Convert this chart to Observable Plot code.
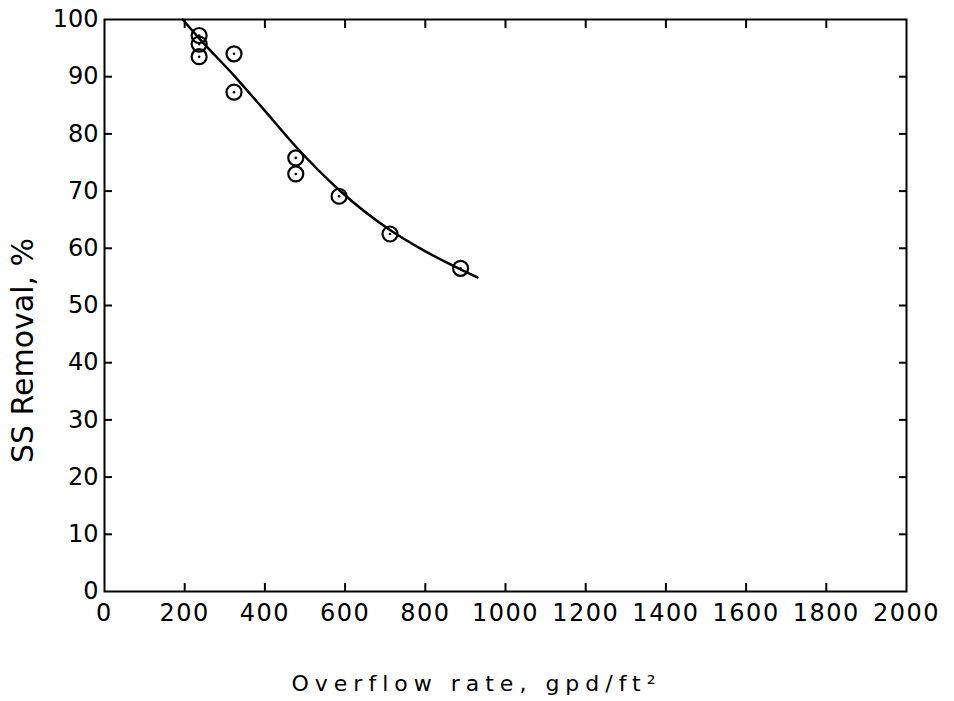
<!DOCTYPE html>
<html>
<head>
<meta charset="utf-8">
<script src="https://cdn.jsdelivr.net/npm/d3@7"></script>
<script src="https://cdn.jsdelivr.net/npm/@observablehq/plot@0.6"></script>
<style>
  html, body { margin: 0; padding: 0; background: #fff; }
  #chart svg { display: block; }
  g[aria-label="x-axis tick label"] text { letter-spacing: 1.5px; }
</style>
</head>
<body>
<div id="chart"></div>
<script>
// Measured data points (overflow rate, gpd/ft², vs SS removal, %)
const overflowRate = [236, 236, 236, 323, 323, 477, 477, 585, 712, 888];
const ssRemoval    = [97.2, 95.7, 93.5, 94.0, 87.3, 75.8, 73.0, 69.1, 62.5, 56.5];

// Hand-drawn fitted curve
const curveRate    = [195, 236, 323, 398, 477, 585, 712, 797, 930];
const curveRemoval = [100, 96.7, 90.2, 84.2, 77.8, 70.2, 63.2, 59.6, 54.9];

// Axis ticks and titles
const xTicks = [0, 200, 400, 600, 800, 1000, 1200, 1400, 1600, 1800, 2000];
const yTicks = [0, 10, 20, 30, 40, 50, 60, 70, 80, 90, 100];
const innerXTicks = [200, 400, 600, 800, 1000, 1200, 1400, 1600, 1800];
const innerYTicks = [10, 20, 30, 40, 50, 60, 70, 80, 90];
const xTitle = "Overflow rate, gpd/ft²";
const yTitle = "SS Removal, %";

const points = overflowRate.map((x, i) => ({x, y: ssRemoval[i]}));
const fit = curveRate.map((x, i) => ({x, y: curveRemoval[i]}));

const chart = Plot.plot({
  width: 954,
  height: 701,
  marginLeft: 104,
  marginRight: 48,
  marginTop: 19,
  marginBottom: 110,
  style: {fontFamily: "'DejaVu Sans', sans-serif", fontSize: "24px", color: "#000", background: "#fff"},
  x: {domain: [0, 2000]},
  y: {domain: [0, 100]},
  marks: [
    Plot.frame({stroke: "#000", strokeWidth: 2}),
    Plot.axisX(innerXTicks, {anchor: "bottom", tickSize: -8, strokeWidth: 2, tickFormat: () => "", label: null}),
    Plot.axisX(innerXTicks, {anchor: "top", tickSize: -8, strokeWidth: 2, tickFormat: () => "", label: null}),
    Plot.axisY(innerYTicks, {anchor: "left", tickSize: -8, strokeWidth: 2, tickFormat: () => "", label: null}),
    Plot.axisY(innerYTicks, {anchor: "right", tickSize: -8, strokeWidth: 2, tickFormat: () => "", label: null}),
    Plot.axisX(xTicks, {anchor: "bottom", tickSize: 0, tickPadding: 12, fontSize: 24, label: null, tickFormat: d => String(d)}),
    Plot.axisY(yTicks, {anchor: "left", tickSize: 0, tickPadding: 6, fontSize: 24, label: null, tickFormat: d => String(d)}),
    Plot.line(fit, {x: "x", y: "y", curve: "monotone-x", stroke: "#000", strokeWidth: 2.5}),
    Plot.dot(points, {x: "x", y: "y", r: 7.5, stroke: "#000", strokeWidth: 2.2, fill: "none"}),
    Plot.dot(points, {x: "x", y: "y", r: 1.3, fill: "#000", stroke: "none"}),
    Plot.text([xTitle], {frameAnchor: "bottom", lineAnchor: "bottom", textAnchor: "middle", dy: 99, dx: -29, fontSize: 22, text: d => d}),
    Plot.text([yTitle], {frameAnchor: "left", lineAnchor: "bottom", textAnchor: "middle", rotate: -90, dx: -72, dy: 45, fontSize: 30, text: d => d})
  ]
});

d3.select(chart).selectAll("text").filter(function() { return this.textContent === xTitle; })
  .style("letter-spacing", "6px");

document.getElementById("chart").appendChild(chart);
</script>
</body>
</html>
